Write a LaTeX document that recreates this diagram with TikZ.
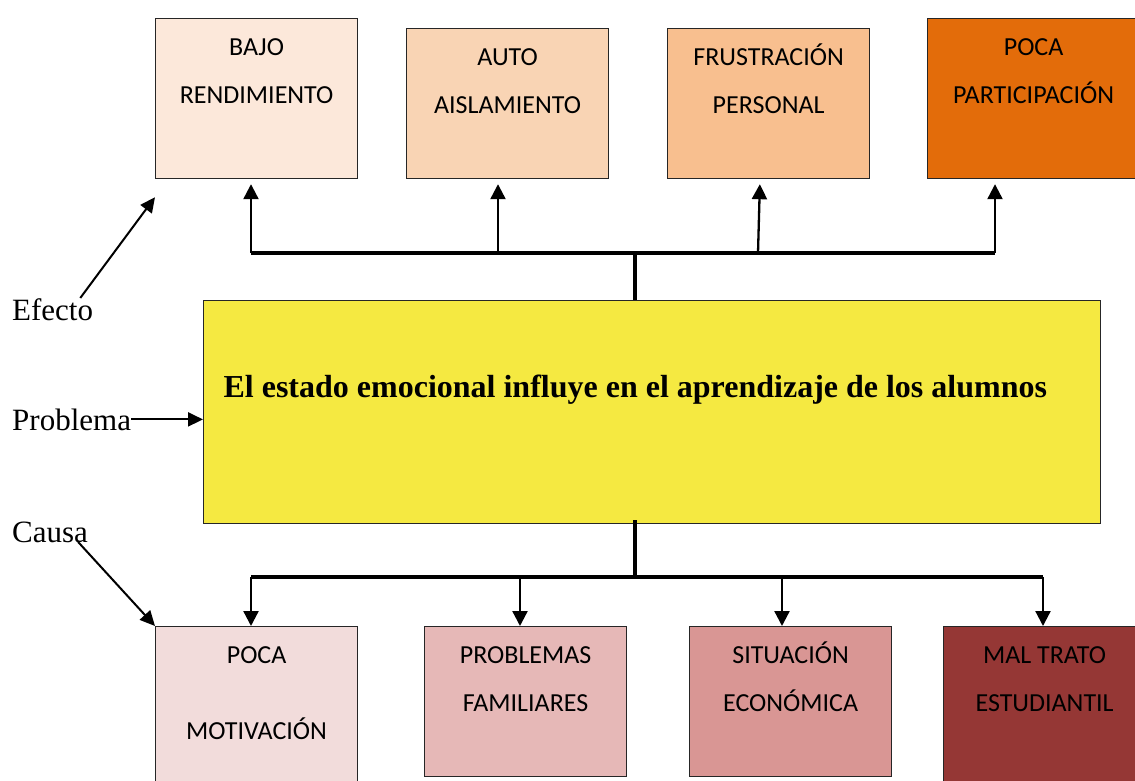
\documentclass[tikz,border=0pt]{standalone}
\usepackage{fontspec}
\setmainfont{Liberation Serif}
\newfontfamily\calibri{Carlito}
\usetikzlibrary{arrows.meta,positioning}
\definecolor{efecA}{HTML}{FCE8DA}
\definecolor{efecB}{HTML}{F9D4B4}
\definecolor{efecC}{HTML}{F8BF8F}
\definecolor{efecD}{HTML}{E36C0A}
\definecolor{amarillo}{HTML}{F5E941}
\definecolor{causaA}{HTML}{F2DCDB}
\definecolor{causaB}{HTML}{E6B8B7}
\definecolor{causaC}{HTML}{D99694}
\definecolor{causaD}{HTML}{953735}
\tikzset{
  caja/.style={draw=black!85, line width=1.2pt, inner sep=0pt, anchor=north west,
    font=\calibri\fontsize{26}{48}\selectfont},
  bus/.style={line width=3.3pt},
  flecha/.style={line width=2.3pt, -{Triangle[width=15pt,length=15pt]}},
  guia/.style={line width=2pt, -{Triangle[width=14pt,length=15pt]}},
  rotulo/.style={inner sep=0pt, anchor=base west, font=\fontsize{31}{36}\selectfont}
}
\newcommand{\txt}[3]{\parbox[t][#2][t]{#1}{\centering\rule{0pt}{37pt}#3}}
\begin{document}
\begin{tikzpicture}[x=1pt,y=-1pt]
\useasboundingbox (0,0) rectangle (1135,781);
\clip (0,0) rectangle (1135,781);
% efectos
\node[caja,fill=efecA] (bajo) at (155,18) {\txt{202pt}{160pt}{BAJO\\RENDIMIENTO}};
\node[caja,fill=efecB] (auto) at (406,28) {\txt{202pt}{150pt}{AUTO\\AISLAMIENTO}};
\node[caja,fill=efecC] (frus) at (667,28) {\txt{202pt}{150pt}{FRUSTRACIÓN\\PERSONAL}};
\node[caja,fill=efecD] (poca) at (927,18) {\txt{212pt}{160pt}{POCA\\PARTICIPACIÓN}};
% problema
\node[caja,fill=amarillo,font=\bfseries\fontsize{32}{36}\selectfont] (prob) at (203,300)
  {\parbox[t][223pt][t]{897pt}{\hspace*{20pt}\rule{0pt}{97pt}El estado emocional influye en el aprendizaje de los alumnos}};
% causas
\node[caja,fill=causaA] (motiv) at (155,626) {\txt{202pt}{180pt}{POCA\\[28pt]MOTIVACIÓN}};
\node[caja,fill=causaB] (famil) at (424,626) {\txt{202pt}{150pt}{PROBLEMAS\\FAMILIARES}};
\node[caja,fill=causaC] (econ) at (689,626) {\txt{202pt}{150pt}{SITUACIÓN\\ECONÓMICA}};
\node[caja,fill=causaD] (trato) at (943,626) {\txt{202pt}{180pt}{MAL TRATO\\ESTUDIANTIL}};
% rotulos
\node[rotulo] (efecto) at (12,320) {Efecto};
\node[rotulo] (problema) at (12,430) {Problema};
\node[rotulo] (causa) at (12,542) {Causa};
\draw[guia] ([xshift=-13pt]efecto.north east) -- ([yshift=-18pt]bajo.south west);
\draw[guia] (problema.east) -- (problema.east -| prob.west);
\draw[guia] ([xshift=-10pt]causa.base east) -- (motiv.north west);
% ramas de efecto
\coordinate (cruceE) at (635,253);
\coordinate (e1) at (251,253);
\coordinate (e2) at (498,253);
\coordinate (e3) at (758,253);
\coordinate (e4) at (995,253);
\draw[bus] (cruceE) -- (cruceE |- prob.north);
\draw[bus] (e1) -- (e4);
\draw[flecha,shorten >=5pt] (e1) -- (e1 |- bajo.south);
\draw[flecha,shorten >=5pt] (e2) -- (e2 |- auto.south);
\draw[flecha,shorten >=5pt] (e3) -- ([xshift=2pt]e3 |- frus.south);
\draw[flecha,shorten >=5pt] (e4) -- (e4 |- poca.south);
% ramas de causa
\coordinate (cruceC) at (635,577);
\coordinate (c1) at (251,577);
\coordinate (c2) at (520,577);
\coordinate (c3) at (782,577);
\coordinate (c4) at (1043,577);
\draw[bus] (cruceC) -- ([yshift=4pt]cruceC |- prob.south);
\draw[bus] (c1) -- (c4);
\draw[flecha] (c1) -- (c1 |- motiv.north);
\draw[flecha] (c2) -- (c2 |- famil.north);
\draw[flecha] (c3) -- (c3 |- econ.north);
\draw[flecha] (c4) -- (c4 |- trato.north);
\end{tikzpicture}
\end{document}
